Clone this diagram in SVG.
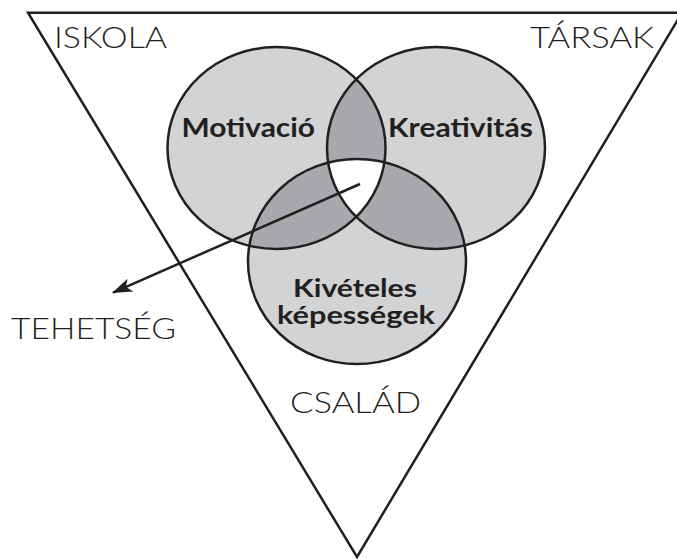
<svg xmlns="http://www.w3.org/2000/svg" xmlns:xlink="http://www.w3.org/1999/xlink" width="677" height="559" viewBox="0 0 677 559">
<style>
.ln{fill:none;stroke:#231f20;stroke-width:2.5}
.lt{fill:#d1d3d4}
.dk{fill:#a7a9ac}
.wh{fill:#ffffff}
.cap{font-family:Lato,"Liberation Sans",sans-serif;font-weight:300;font-size:30px;fill:#231f20}
.bold{font-family:Lato,"Liberation Sans",sans-serif;font-weight:bold;font-size:26px;fill:#231f20}
.bold2{font-family:Lato,"Liberation Sans",sans-serif;font-weight:bold;font-size:24px;fill:#231f20}
</style>
<defs>
<ellipse id="eA" cx="276.5" cy="148" rx="109" ry="101"/>
<ellipse id="eB" cx="436" cy="148" rx="109" ry="101"/>
<ellipse id="eC" cx="357" cy="261.5" rx="109" ry="102.5"/>
<clipPath id="cA"><use xlink:href="#eA"/></clipPath>
<clipPath id="cB"><use xlink:href="#eB"/></clipPath>
<clipPath id="cC"><use xlink:href="#eC"/></clipPath>
<marker id="arr" viewBox="0 0 20 14" refX="19" refY="7" markerWidth="20" markerHeight="14" markerUnits="userSpaceOnUse" orient="auto">
<path d="M20 7 L0 0 L5 7 L0 14 Z" fill="#231f20"/>
</marker>
</defs>
<g id="triangle">
<polygon class="ln" points="28,12.7 682,12.7 357,557"/>
</g>
<g id="venn">
<use xlink:href="#eA" class="lt"/>
<use xlink:href="#eB" class="lt"/>
<use xlink:href="#eC" class="lt"/>
<use xlink:href="#eA" class="dk" clip-path="url(#cB)"/>
<use xlink:href="#eA" class="dk" clip-path="url(#cC)"/>
<use xlink:href="#eB" class="dk" clip-path="url(#cC)"/>
<g clip-path="url(#cC)"><use xlink:href="#eA" class="wh" clip-path="url(#cB)"/></g>
</g>
<g id="motivacio">
<use xlink:href="#eA" class="ln"/>
<text class="bold" x="181.5" y="137.3" textLength="133.5" lengthAdjust="spacingAndGlyphs">Motivació</text>
</g>
<g id="kreativitas">
<use xlink:href="#eB" class="ln"/>
<text class="bold" x="388" y="137.3" textLength="145" lengthAdjust="spacingAndGlyphs">Kreativitás</text>
</g>
<g id="kiveteles">
<use xlink:href="#eC" class="ln"/>
<text class="bold2" x="293" y="296.7" textLength="124" lengthAdjust="spacingAndGlyphs">Kivételes</text>
<text class="bold2" x="277" y="324" textLength="158" lengthAdjust="spacingAndGlyphs">képességek</text>
</g>
<g id="connectors">
<line class="ln" x1="360" y1="184" x2="113" y2="292.7" marker-end="url(#arr)"/>
</g>
<g id="labels">
<text id="iskola" class="cap" x="54" y="48" textLength="113" lengthAdjust="spacingAndGlyphs">ISKOLA</text>
<text id="tarsak" class="cap" x="530" y="48" textLength="124" lengthAdjust="spacingAndGlyphs">TÁRSAK</text>
<text id="tehetseg" class="cap" x="11" y="339" textLength="165" lengthAdjust="spacingAndGlyphs">TEHETSÉG</text>
<text id="csalad" class="cap" x="290" y="413" textLength="131" lengthAdjust="spacingAndGlyphs">CSALÁD</text>
</g>
</svg>
